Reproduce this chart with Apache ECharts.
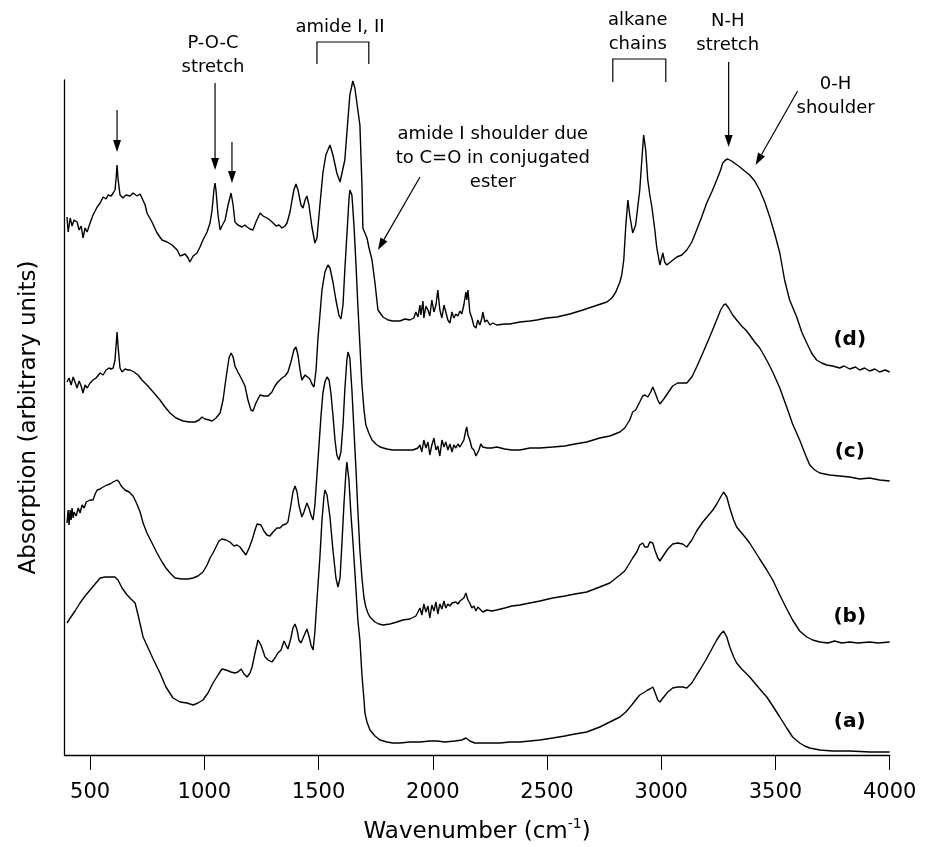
<!DOCTYPE html>
<html>
<head>
<meta charset="utf-8">
<script src="https://cdn.jsdelivr.net/npm/echarts@6/dist/echarts.min.js"></script>
<style>html,body{margin:0;padding:0;background:#fff}#c{width:931px;height:847px}</style>
</head>
<body>
<div id="c"></div>
<script>
// x tick labels (cm^-1)
const xTicks = [500, 1000, 1500, 2000, 2500, 3000, 3500, 4000];

// spectra: [wavenumber (cm^-1), absorption (arbitrary units)]
const specD = [[399,538],[404,523],[413,537],[421,529],[430,535],[443,533],[452,525],[461,529],[469,517],[478,527],[487,523],[500,532],[513,540],[531,548],[544,552],[557,558],[570,556],[579,560],[592,559],[601,562],[609,565],[614,577],[618,590],[622,577],[631,560],[644,557],[657,560],[675,559],[688,562],[706,559],[719,561],[727,560],[741,550],[749,542],[771,533],[793,522],[815,515],[837,513],[859,510],[881,505],[894,499],[902,498],[916,501],[929,497],[937,493],[951,499],[968,502],[981,508],[994,515],[1012,523],[1025,532],[1034,545],[1042,565],[1047,572],[1051,565],[1060,540],[1069,525],[1077,529],[1091,535],[1104,550],[1117,562],[1126,550],[1134,533],[1147,530],[1165,528],[1178,530],[1187,528],[1200,526],[1213,525],[1226,533],[1244,542],[1257,539],[1274,537],[1287,535],[1301,532],[1314,529],[1327,530],[1340,527],[1353,529],[1362,532],[1375,543],[1384,555],[1392,565],[1401,571],[1410,565],[1423,550],[1432,547],[1441,555],[1449,559],[1458,550],[1471,528],[1484,512],[1493,517],[1506,550],[1519,582],[1532,600],[1550,610],[1563,600],[1580,582],[1594,573],[1602,573],[1615,595],[1624,622],[1637,660],[1650,674],[1659,667],[1672,645],[1681,630],[1690,570],[1694,527],[1703,522],[1712,517],[1720,508],[1734,495],[1747,472],[1760,445],[1782,438],[1804,435],[1825,434],[1856,434],[1878,436],[1900,435],[1917,437],[1926,443],[1935,438],[1944,450],[1948,440],[1957,454],[1961,437],[1970,449],[1979,445],[1987,439],[1996,455],[2005,443],[2014,450],[2022,465],[2031,445],[2040,437],[2049,450],[2057,443],[2066,435],[2075,432],[2084,443],[2092,437],[2101,441],[2110,439],[2119,444],[2127,441],[2136,450],[2145,463],[2149,455],[2154,465],[2162,443],[2171,437],[2180,429],[2189,427],[2197,435],[2206,430],[2215,437],[2219,443],[2228,433],[2237,435],[2250,430],[2263,432],[2280,430],[2315,431],[2337,431],[2381,433],[2425,434],[2455,435],[2499,437],[2543,438],[2600,441],[2657,445],[2709,449],[2762,453],[2784,457],[2801,463],[2819,473],[2827,480],[2836,495],[2845,530],[2854,555],[2862,540],[2875,522],[2888,530],[2906,565],[2915,595],[2923,620],[2932,605],[2941,575],[2950,560],[2959,548],[2972,525],[2980,508],[2994,490],[3007,502],[3015,493],[3024,490],[3046,494],[3068,498],[3090,500],[3112,505],[3134,513],[3155,525],[3177,538],[3199,552],[3221,563],[3243,575],[3260,585],[3269,592],[3282,595],[3291,596],[3308,594],[3326,591],[3344,588],[3365,584],[3387,580],[3409,574],[3431,565],[3453,553],[3475,538],[3497,521],[3519,502],[3540,475],[3562,455],[3593,438],[3615,423],[3637,412],[3658,402],[3680,395],[3702,392],[3724,390],[3750,389],[3781,387],[3800,389],[3825,386],[3850,388],[3869,385],[3890,387],[3912,384],[3935,386],[3956,383],[3980,385],[4000,383]];

const specC = [[399,373],[408,377],[417,370],[426,378],[434,373],[443,367],[452,374],[461,369],[469,362],[478,370],[487,367],[500,372],[513,375],[526,377],[544,382],[557,380],[570,385],[583,387],[592,386],[601,387],[609,395],[614,410],[618,423],[622,410],[631,387],[640,383],[653,386],[666,385],[675,385],[692,383],[710,380],[727,375],[749,370],[776,363],[806,355],[828,348],[850,342],[876,337],[907,334],[933,333],[959,333],[977,335],[990,338],[1003,336],[1021,335],[1034,334],[1051,337],[1069,342],[1082,355],[1095,377],[1108,397],[1117,402],[1126,398],[1134,389],[1147,383],[1161,377],[1169,375],[1178,369],[1191,355],[1204,345],[1213,344],[1226,352],[1244,360],[1261,359],[1279,359],[1296,363],[1309,369],[1322,373],[1340,377],[1353,379],[1366,383],[1379,393],[1392,405],[1401,408],[1410,400],[1419,385],[1427,375],[1441,380],[1449,381],[1462,376],[1471,371],[1480,368],[1489,385],[1497,415],[1506,440],[1515,465],[1528,483],[1541,490],[1550,487],[1563,473],[1576,455],[1589,440],[1598,436],[1607,450],[1615,485],[1624,520],[1633,555],[1637,565],[1646,560],[1655,530],[1664,490],[1672,450],[1681,410],[1690,370],[1699,345],[1707,330],[1720,322],[1734,315],[1751,311],[1769,308],[1799,306],[1825,305],[1856,305],[1887,305],[1913,305],[1935,307],[1944,310],[1952,303],[1961,315],[1970,307],[1979,313],[1987,300],[1996,310],[2005,317],[2014,305],[2022,309],[2031,299],[2040,315],[2049,308],[2057,313],[2066,305],[2075,311],[2084,303],[2092,310],[2101,307],[2110,311],[2119,308],[2127,310],[2136,315],[2145,325],[2149,328],[2154,320],[2162,315],[2171,307],[2180,305],[2189,299],[2193,297],[2202,305],[2210,311],[2219,308],[2237,307],[2258,307],[2280,308],[2315,306],[2346,305],[2381,305],[2425,307],[2469,307],[2525,308],[2578,309],[2622,311],[2674,313],[2731,317],[2775,319],[2819,323],[2840,327],[2862,335],[2875,343],[2888,345],[2906,353],[2919,359],[2928,360],[2941,358],[2954,363],[2963,368],[2972,363],[2985,355],[2994,351],[3011,356],[3029,362],[3050,369],[3072,372],[3094,372],[3112,372],[3134,378],[3155,388],[3182,402],[3212,418],[3239,433],[3260,445],[3273,450],[3282,451],[3295,447],[3313,440],[3330,435],[3352,429],[3370,425],[3387,420],[3409,413],[3431,407],[3444,402],[3466,393],[3488,383],[3519,367],[3549,348],[3575,331],[3606,315],[3628,302],[3650,290],[3672,285],[3694,282],[3737,280],[3781,279],[3825,278],[3869,276],[3912,277],[3956,275],[4000,274]];

const specB = [[399,232],[404,245],[408,230],[413,245],[417,235],[421,247],[426,237],[430,243],[439,239],[448,247],[456,242],[465,250],[474,247],[483,253],[491,251],[500,255],[513,255],[522,261],[531,265],[544,266],[557,268],[574,270],[587,271],[601,273],[609,273],[618,275],[627,273],[636,269],[653,265],[671,263],[688,259],[701,253],[719,243],[732,232],[749,222],[771,212],[793,202],[815,193],[832,187],[850,182],[872,177],[902,176],[929,176],[951,177],[972,179],[994,183],[1012,190],[1025,197],[1038,202],[1051,208],[1064,214],[1077,216],[1095,215],[1112,213],[1130,209],[1143,210],[1156,208],[1169,204],[1182,200],[1196,207],[1209,215],[1222,225],[1231,231],[1239,233],[1248,230],[1261,224],[1274,220],[1287,219],[1301,223],[1318,227],[1331,227],[1344,230],[1357,231],[1366,233],[1379,250],[1388,263],[1397,269],[1406,263],[1414,250],[1427,238],[1436,243],[1449,252],[1458,247],[1467,240],[1476,235],[1484,250],[1493,280],[1502,310],[1511,340],[1519,362],[1528,373],[1537,378],[1546,375],[1554,362],[1563,340],[1572,315],[1580,300],[1589,295],[1598,303],[1607,330],[1615,365],[1624,395],[1629,403],[1637,397],[1646,365],[1655,325],[1664,285],[1672,245],[1681,205],[1690,177],[1699,157],[1707,148],[1716,142],[1725,138],[1747,133],[1764,131],[1782,130],[1812,131],[1843,133],[1869,135],[1900,136],[1926,139],[1935,143],[1944,147],[1952,140],[1961,151],[1970,143],[1979,149],[1987,137],[1996,150],[2005,144],[2014,153],[2022,141],[2031,151],[2040,146],[2049,154],[2057,147],[2066,151],[2075,149],[2084,152],[2092,150],[2101,153],[2110,151],[2119,154],[2127,152],[2136,157],[2145,162],[2149,160],[2154,155],[2162,152],[2171,147],[2180,149],[2189,144],[2197,148],[2206,146],[2219,143],[2237,145],[2258,144],[2280,145],[2315,147],[2346,149],[2381,150],[2425,152],[2469,154],[2525,157],[2578,159],[2622,161],[2674,163],[2731,168],[2775,172],[2819,180],[2840,184],[2862,192],[2875,197],[2893,203],[2906,210],[2919,212],[2928,208],[2941,208],[2950,213],[2963,212],[2972,205],[2985,197],[2994,194],[3011,200],[3029,206],[3050,211],[3072,212],[3094,211],[3112,208],[3134,215],[3155,224],[3182,233],[3204,239],[3226,245],[3243,251],[3260,258],[3273,263],[3287,258],[3300,247],[3317,235],[3330,228],[3352,222],[3370,217],[3387,212],[3409,204],[3431,196],[3462,185],[3488,175],[3519,160],[3545,148],[3575,135],[3606,124],[3637,118],[3663,115],[3694,113],[3730,112],[3759,114],[3790,112],[3825,113],[3860,112],[3912,113],[3950,112],[4000,113]];

const specA = [[399,132],[413,137],[434,144],[456,152],[478,159],[500,165],[522,171],[544,177],[566,178],[587,178],[609,178],[622,175],[640,167],[662,160],[679,156],[697,152],[710,140],[732,118],[754,107],[776,96],[806,82],[832,68],[863,57],[894,53],[924,52],[951,50],[972,52],[994,55],[1016,62],[1038,72],[1060,80],[1077,86],[1095,85],[1117,83],[1134,82],[1147,83],[1161,86],[1174,81],[1187,78],[1200,82],[1209,88],[1222,102],[1235,115],[1248,110],[1266,98],[1279,95],[1296,93],[1309,97],[1322,102],[1336,105],[1349,114],[1357,110],[1366,106],[1379,117],[1388,127],[1397,131],[1406,125],[1414,115],[1423,112],[1436,119],[1449,126],[1458,119],[1467,110],[1476,105],[1484,123],[1493,155],[1506,198],[1515,235],[1524,259],[1528,265],[1537,260],[1550,238],[1563,205],[1576,177],[1585,168],[1594,177],[1602,210],[1611,250],[1620,283],[1624,293],[1633,275],[1642,240],[1650,215],[1664,165],[1672,135],[1681,115],[1690,80],[1699,55],[1703,42],[1712,33],[1725,25],[1747,19],[1769,15],[1799,13],[1825,12],[1856,12],[1900,13],[1944,13],[1987,14],[2018,14],[2053,13],[2097,14],[2127,15],[2145,17],[2149,16],[2162,14],[2184,12],[2206,12],[2250,12],[2294,12],[2337,13],[2381,13],[2425,14],[2469,15],[2525,17],[2578,19],[2622,21],[2674,23],[2731,28],[2775,33],[2819,38],[2845,43],[2871,50],[2888,55],[2906,60],[2928,63],[2941,65],[2950,66],[2963,68],[2972,63],[2985,55],[2994,53],[3011,58],[3029,63],[3050,67],[3072,68],[3094,68],[3112,67],[3134,72],[3155,80],[3169,85],[3190,93],[3212,102],[3226,108],[3243,115],[3260,121],[3273,124],[3287,118],[3300,108],[3317,98],[3330,92],[3352,86],[3370,82],[3387,78],[3413,71],[3435,65],[3462,58],[3488,49],[3519,38],[3549,27],[3575,18],[3606,12],[3628,9],[3650,7],[3694,5],[3750,4],[3825,4],[3912,3],[4000,3]];

// curve labels: [text, wavenumber, absorption]
const curveLabels = [['(d)',3825,415],['(c)',3825,303],['(b)',3825,138],['(a)',3825,33]];

// text annotations: [text, wavenumber, absorption (centre)]
const annoTexts = [
  ['P-O-C\nstretch', 1038, 700],
  ['amide I, II', 1594, 728],
  ['amide I shoulder due\nto C=O in conjugated\nester', 2263, 597],
  ['alkane\nchains', 2897, 723],
  ['N-H\nstretch', 3291, 722],
  ['0-H\nshoulder', 3763, 659]
];
// arrows: [fromX, fromY, tipX, tipY]
const annoArrows = [
  [618, 645, 618, 603],
  [1047, 672, 1047, 585],
  [1121, 613, 1121, 572],
  [1944, 578, 1760, 505],
  [3295, 693, 3295, 608],
  [3597, 664, 3413, 590]
];
// brackets: [leftX, rightX, topY, legY]
const annoBrackets = [
  [1493, 1720, 713, 691],
  [2788, 3020, 696, 673]
];

const FONT = '"DejaVu Sans", "Liberation Sans", sans-serif';
const chart = echarts.init(document.getElementById('c'), null, {renderer: 'canvas'});

function spectrum(name, data) {
  return {
    name: name, type: 'line', data: data, showSymbol: false, symbol: 'none',
    smooth: false, clip: false, animation: false,
    lineStyle: {color: '#000', width: 1.4}
  };
}

chart.setOption({
  animation: false,
  backgroundColor: '#fff',
  grid: {left: 64.5, right: 41.3, top: 80, bottom: 92, containLabel: false, outerBoundsMode: 'none'},
  xAxis: {
    type: 'value', min: 388, max: 4000,
    axisLine: {show: true, lineStyle: {color: '#000', width: 1.3}},
    axisTick: {show: true, inside: false, length: 15, customValues: xTicks, lineStyle: {color: '#000', width: 1}},
    axisLabel: {show: true, customValues: xTicks, margin: 27, fontSize: 21, color: '#000', fontFamily: FONT,
      showMaxLabel: true, showMinLabel: true, formatter: function (v) { return String(v); }},
    splitLine: {show: false},
    name: '{t|Wavenumber (cm}{s|-1}{t|)}',
    nameLocation: 'middle', nameGap: 62,
    nameTextStyle: {
      color: '#000', fontFamily: FONT, fontSize: 23,
      rich: {
        t: {fontSize: 23, fontFamily: FONT, color: '#000'},
        s: {fontSize: 14, fontFamily: FONT, color: '#000', padding: [0, 0, 16, 0]}
      }
    }
  },
  yAxis: {
    type: 'value', min: 0, max: 675,
    axisLine: {show: true, lineStyle: {color: '#000', width: 1.3}},
    axisTick: {show: false}, axisLabel: {show: false}, splitLine: {show: false},
    name: 'Absorption (arbitrary units)', nameLocation: 'middle', nameGap: 24,
    nameTextStyle: {color: '#000', fontFamily: FONT, fontSize: 23}
  },
  series: [spectrum('(a)', specA), spectrum('(b)', specB), spectrum('(c)', specC), spectrum('(d)', specD)]
});

function px(x, y) { return chart.convertToPixel({xAxisIndex: 0, yAxisIndex: 0}, [x, y]); }

const g = [];
annoTexts.forEach(function (t) {
  const p = px(t[1], t[2]);
  g.push({type: 'text', x: p[0], y: p[1], silent: true,
    style: {text: t[0], fill: '#000', fontSize: 18, fontFamily: FONT, lineHeight: 24,
      align: 'center', verticalAlign: 'middle', textAlign: 'center', textVerticalAlign: 'middle'}});
});
curveLabels.forEach(function (t) {
  const p = px(t[1], t[2]);
  g.push({type: 'text', x: p[0], y: p[1], silent: true,
    style: {text: t[0], fill: '#000', fontSize: 20, fontWeight: 'bold', fontFamily: FONT,
      align: 'center', verticalAlign: 'middle', textAlign: 'center', textVerticalAlign: 'middle'}});
});
annoArrows.forEach(function (a) {
  const s = px(a[0], a[1]), e = px(a[2], a[3]);
  const dx = e[0] - s[0], dy = e[1] - s[1];
  const L = Math.sqrt(dx * dx + dy * dy), ux = dx / L, uy = dy / L;
  const hl = 12, hw = 4;
  const bx = e[0] - ux * hl, by = e[1] - uy * hl;
  g.push({type: 'line', silent: true, shape: {x1: s[0], y1: s[1], x2: bx, y2: by},
    style: {stroke: '#000', lineWidth: 1.2}});
  g.push({type: 'polygon', silent: true,
    shape: {points: [[e[0], e[1]], [bx - uy * hw, by + ux * hw], [bx + uy * hw, by - ux * hw]]},
    style: {fill: '#000'}});
});
annoBrackets.forEach(function (b) {
  const p1 = px(b[0], b[3]), p2 = px(b[0], b[2]), p3 = px(b[1], b[2]), p4 = px(b[1], b[3]);
  g.push({type: 'polyline', silent: true, shape: {points: [p1, p2, p3, p4]},
    style: {stroke: '#000', lineWidth: 1.2, fill: null}});
});
chart.setOption({graphic: g});
</script>
</body>
</html>
